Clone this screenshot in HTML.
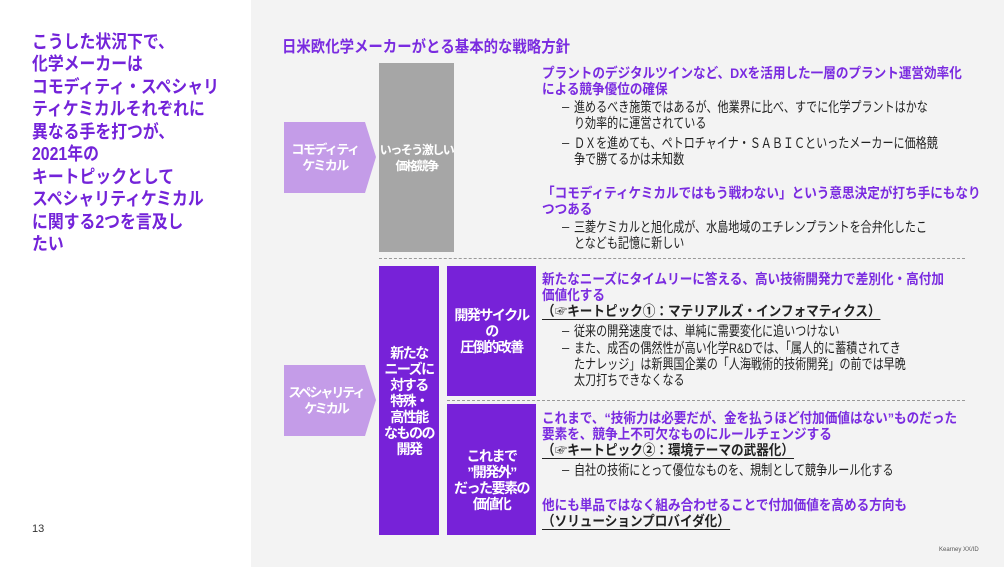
<!DOCTYPE html>
<html><head><meta charset="utf-8"><style>
body{margin:0;width:1004px;height:567px;position:relative;overflow:hidden;background:#f3f3f3;font-family:"Liberation Sans","Noto Sans CJK JP",sans-serif;}
.a{position:absolute;white-space:nowrap;transform-origin:0 0;}
.L{left:32px;font-size:18px;font-weight:bold;color:#7323d9;transform:scaleX(0.88);line-height:22px}
.h{font-size:14px;font-weight:bold;color:#7a2be0;transform:scaleX(0.9);line-height:16px}
.b{font-size:14px;color:#222;transform:scaleX(0.79);line-height:16px}
.d{font-size:13px;color:#222;line-height:16px}
.k{font-size:14px;font-weight:bold;color:#222;transform:scaleX(0.9);line-height:16px}
.box{position:absolute;display:flex;align-items:center;justify-content:center;text-align:center;color:#fff;font-weight:bold;font-size:14px;line-height:16px;white-space:nowrap;letter-spacing:-1px}
.dash{position:absolute;border-top:1px dashed #999;height:0}
</style></head><body>
<div style="position:absolute;left:0;top:0;width:251px;height:567px;background:#fff"></div>
<div class="a L" style="top:31px">こうした状況下で、</div>
<div class="a L" style="top:53px">化学メーカーは</div>
<div class="a L" style="top:76px">コモディティ・スペシャリ</div>
<div class="a L" style="top:98px">ティケミカルそれぞれに</div>
<div class="a L" style="top:121px">異なる手を打つが、</div>
<div class="a L" style="top:143px">2021年の</div>
<div class="a L" style="top:166px">キートピックとして</div>
<div class="a L" style="top:188px">スペシャリティケミカル</div>
<div class="a L" style="top:211px">に関する2つを言及し</div>
<div class="a L" style="top:233px">たい</div>
<div class="a" style="left:32px;top:523px;font-size:11px;color:#333">13</div>
<div class="a" style="left:939px;top:547px;font-size:6px;color:#555">Kearney XX/ID</div>

<div class="a" style="left:282px;top:33px;font-size:16px;font-weight:bold;color:#7a2be0;transform:scaleX(0.9)">日米欧化学メーカーがとる基本的な戦略方針</div>

<svg style="position:absolute;left:0;top:0" width="1004" height="567">
<polygon points="284,122 365,122 376,157 365,193 284,193" fill="#c49ce8"/>
<polygon points="284,365 365,365 376,400 365,436 284,436" fill="#c49ce8"/>
</svg>
<div class="box" style="left:284px;top:122px;width:82px;height:71px;font-size:13px;letter-spacing:-1.5px">コモディティ<br>ケミカル</div>
<div class="box" style="left:284px;top:365px;width:84px;height:71px;font-size:13px;letter-spacing:-2px">スペシャリティ<br>ケミカル</div>

<div class="box" style="left:379px;top:63px;width:75px;height:189px;background:#a6a6a6;font-size:12px;letter-spacing:-1.5px">いっそう激しい<br>価格競争</div>
<div class="dash" style="left:379px;top:258px;width:586px"></div>
<div class="box" style="left:379px;top:266px;width:60px;height:269px;background:#7722d8;letter-spacing:-1.5px">新たな<br>ニーズに<br>対する<br>特殊・<br>高性能<br>なものの<br>開発</div>
<div class="box" style="left:447px;top:266px;width:89px;height:130px;background:#7722d8;letter-spacing:-1.5px">開発サイクル<br>の<br>圧倒的改善</div>
<div class="box" style="left:447px;top:404px;width:89px;height:131px;background:#7722d8;padding-top:20px;box-sizing:border-box;letter-spacing:-1.5px">これまで<br>”開発外”<br>だった要素の<br>価値化</div>
<div class="dash" style="left:447px;top:400px;width:518px"></div>

<div class="a h" style="left:542px;top:65px">プラントのデジタルツインなど、DXを活用した一層のプラント運営効率化</div>
<div class="a h" style="left:542px;top:81px">による競争優位の確保</div>
<div class="a d" style="left:562px;top:99px">–</div>
<div class="a b" style="left:574px;top:99px">進めるべき施策ではあるが、他業界に比べ、すでに化学プラントはかな</div>
<div class="a b" style="left:574px;top:115px">り効率的に運営されている</div>
<div class="a d" style="left:562px;top:135px">–</div>
<div class="a b" style="left:574px;top:135px">ＤＸを進めても、ペトロチャイナ・ＳＡＢＩＣといったメーカーに価格競</div>
<div class="a b" style="left:574px;top:151px">争で勝てるかは未知数</div>
<div class="a h" style="left:542px;top:185px">「コモディティケミカルではもう戦わない」という意思決定が打ち手にもなり</div>
<div class="a h" style="left:542px;top:201px">つつある</div>
<div class="a d" style="left:562px;top:219px">–</div>
<div class="a b" style="left:574px;top:219px">三菱ケミカルと旭化成が、水島地域のエチレンプラントを合弁化したこ</div>
<div class="a b" style="left:574px;top:235px">となども記憶に新しい</div>

<div class="a h" style="left:542px;top:271px">新たなニーズにタイムリーに答える、高い技術開発力で差別化・高付加</div>
<div class="a h" style="left:542px;top:287px">価値化する</div>
<div class="a k" style="left:542px;top:303px;border-bottom:1px solid #222">（☞キートピック①：マテリアルズ・インフォマティクス）</div>
<div class="a d" style="left:562px;top:323px">–</div>
<div class="a b" style="left:574px;top:323px">従来の開発速度では、単純に需要変化に追いつけない</div>
<div class="a d" style="left:562px;top:340px">–</div>
<div class="a b" style="left:574px;top:340px">また、成否の偶然性が高い化学R&amp;Dでは、「属人的に蓄積されてき</div>
<div class="a b" style="left:574px;top:356px">たナレッジ」は新興国企業の「人海戦術的技術開発」の前では早晩</div>
<div class="a b" style="left:574px;top:372px">太刀打ちできなくなる</div>

<div class="a h" style="left:542px;top:410px">これまで、“技術力は必要だが、金を払うほど付加価値はない”ものだった</div>
<div class="a h" style="left:542px;top:426px">要素を、競争上不可欠なものにルールチェンジする</div>
<div class="a k" style="left:542px;top:442px;border-bottom:1px solid #222">（☞キートピック②：環境テーマの武器化）</div>
<div class="a d" style="left:562px;top:462px">–</div>
<div class="a b" style="left:574px;top:462px">自社の技術にとって優位なものを、規制として競争ルール化する</div>
<div class="a h" style="left:542px;top:497px">他にも単品ではなく組み合わせることで付加価値を高める方向も</div>
<div class="a k" style="left:542px;top:513px;border-bottom:1px solid #222">（ソリューションプロバイダ化）</div>
</body></html>
